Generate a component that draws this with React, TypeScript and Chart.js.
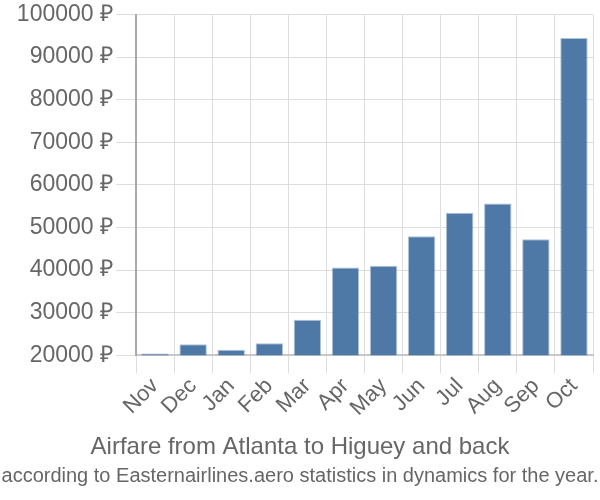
import { useEffect, useRef } from "react";
import { Chart, registerables } from "chart.js";

Chart.register(...registerables);

const months = ["Nov", "Dec", "Jan", "Feb", "Mar", "Apr", "May", "Jun", "Jul", "Aug", "Sep", "Oct"];
const prices = [20400, 22600, 21300, 22800, 28350, 40600, 41000, 47950, 53450, 55600, 47200, 94500];
const yMin = 20000;
const yMax = 100000;
const yStep = 10000;
const currency = "₽";
const titleText = "Airfare from Atlanta to Higuey and back";
const subtitleText = "according to Easternairlines.aero statistics in dynamics for the year.";

export default function App() {
  const ref = useRef<HTMLCanvasElement | null>(null);

  useEffect(() => {
    if (!ref.current) return;
    const font = "'Liberation Sans', Arial, sans-serif";
    const chart = new Chart(ref.current, {
      type: "bar",
      data: {
        labels: months,
        datasets: [
          {
            data: prices,
            backgroundColor: "#4e79a7",
            borderColor: "rgba(78,121,167,0.45)",
            borderWidth: 1,
          },
        ],
      },
      options: {
        responsive: false,
        animation: false,
        layout: { padding: { top: 14, left: 0, right: 0, bottom: 0 } },
        plugins: {
          legend: { display: false },
          tooltip: { enabled: false },
          title: {
            display: true,
            text: titleText,
            position: "bottom",
            weight: 1000,
            color: "#666",
            font: { family: font, size: 24, weight: "normal" },
            padding: { top: 0, bottom: 2 },
          },
          subtitle: {
            display: true,
            text: subtitleText,
            position: "bottom",
            weight: 1500,
            color: "#666",
            font: { family: font, size: 20, weight: "normal" },
            padding: { top: 0, bottom: 12 },
          },
        },
        scales: {
          x: {
            grid: { color: "#dedede", lineWidth: 1, tickLength: 18, offset: true },
            border: { color: "#c8c8c8", width: 2 },
            ticks: {
              color: "#666",
              font: { family: font, size: 22 },
              minRotation: 45,
              maxRotation: 45,
              autoSkip: false,
              padding: 0,
            },
            afterFit: (s: any) => {
              s.height = 78;
            },
          },
          y: {
            min: yMin,
            max: yMax,
            grid: { color: "#dedede", lineWidth: 1, tickLength: 20 },
            border: { color: "#aaaaaa", width: 2 },
            ticks: {
              stepSize: yStep,
              color: "#666",
              font: { family: font, size: 23, lineHeight: 1 },
              padding: 3,
              callback: (v: any) => `${v} ${currency}`,
            },
            afterFit: (s: any) => {
              s.width = 136;
            },
          },
          y2: {
            position: "right",
            display: true,
            grid: { display: false, drawTicks: false },
            border: { display: false },
            ticks: { display: false },
            afterFit: (s: any) => {
              s.width = 7;
            },
          },
        },
      },
    });
    return () => chart.destroy();
  }, []);

  return (
    <div style={{ position: "absolute", left: 0, top: 0, width: 600, height: 500, background: "#fff" }}>
      <canvas ref={ref} width={600} height={500} />
    </div>
  );
}
